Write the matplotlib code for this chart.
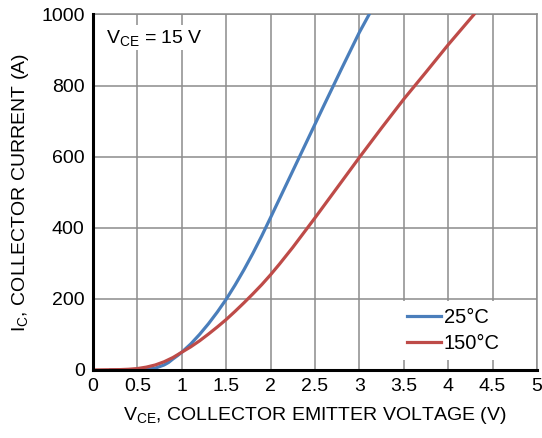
import matplotlib
matplotlib.use("Agg")
from matplotlib import pyplot as plt

plt.rcParams['font.family'] = ['Liberation Sans', 'DejaVu Sans']
plt.rcParams['mathtext.default'] = 'regular'

# collector current vs collector-emitter voltage, VGE = 15 V
vce_25 = [0.2, 0.5, 0.6, 0.7, 0.8, 0.85, 0.9, 0.95, 1.0, 1.1, 1.2, 1.3, 1.4, 1.5,
          1.6, 1.7, 1.8, 1.9, 2.0, 2.2, 2.4, 2.6, 2.8, 3.0, 3.12]
ic_25 = [0, 0.3, 1.5, 5, 14, 21, 31, 40, 50, 73, 100, 130, 163, 199,
         239, 282, 328, 377, 429, 534, 639, 744, 848, 950, 1005]

vce_150 = [0.0, 0.3, 0.4, 0.5, 0.6, 0.7, 0.8, 0.9, 1.0, 1.1, 1.2, 1.3, 1.4, 1.5,
           1.6, 1.7, 1.8, 1.9, 2.0, 2.1, 2.25, 2.5, 2.75, 3.0, 3.25, 3.5, 3.75, 4.0, 4.29]
ic_150 = [0, 1, 2, 4, 8, 14, 23, 35, 50, 65, 82, 101, 121, 142,
          165, 189, 214, 240, 268, 298, 345, 428, 513, 598, 681, 762, 838, 915, 1000]

x_ticks = [0, 0.5, 1, 1.5, 2, 2.5, 3, 3.5, 4, 4.5, 5]
x_labels = ['0', '0.5', '1', '1.5', '2', '2.5', '3', '3.5', '4', '4.5', '5']
y_ticks = [0, 200, 400, 600, 800, 1000]

fig = plt.figure(figsize=(5.42, 4.38), dpi=100)
ax = fig.add_axes([0.1716, 0.1553, 0.8192, 0.8116])

ax.plot(vce_25, ic_25, color='#4a7ebb', lw=2.3, label='25\u00b0C', zorder=3)
ax.plot(vce_150, ic_150, color='#be4b48', lw=2.3, label='150\u00b0C', zorder=3)

ax.set_xlim(0, 5)
ax.set_ylim(0, 1000)
ax.set_xticks(x_ticks)
ax.set_xticklabels(x_labels)
ax.set_yticks(y_ticks)
ax.tick_params(length=0, labelsize=14, pad=6)
ax.grid(True, color='#8c8c8c', lw=1.1)
ax.set_axisbelow(True)

for side in ['top', 'right']:
    ax.spines[side].set_color('#8c8c8c')
    ax.spines[side].set_linewidth(1.1)
for side in ['left', 'bottom']:
    ax.spines[side].set_color('black')
    ax.spines[side].set_linewidth(2.2)
    ax.spines[side].set_zorder(4)

ax.set_xlabel('V$_{CE}$, COLLECTOR EMITTER VOLTAGE (V)', fontsize=14, labelpad=7)
ax.set_ylabel('I$_{C}$, COLLECTOR CURRENT (A)', fontsize=14, labelpad=7)

ax.text(0.03, 0.935, 'V$_{CE}$ = 15 V', transform=ax.transAxes, fontsize=14,
        va='center', ha='left',
        bbox=dict(facecolor='white', edgecolor='none', pad=2))

leg = ax.legend(loc='lower right', bbox_to_anchor=(0.955, 0.0), fontsize=14.5,
                handlelength=1.7, handletextpad=0.15, labelspacing=0.35,
                fancybox=False, framealpha=1, edgecolor='none', borderpad=0.35)
leg.set_zorder(5)

fig.savefig('out.png', dpi=100)
